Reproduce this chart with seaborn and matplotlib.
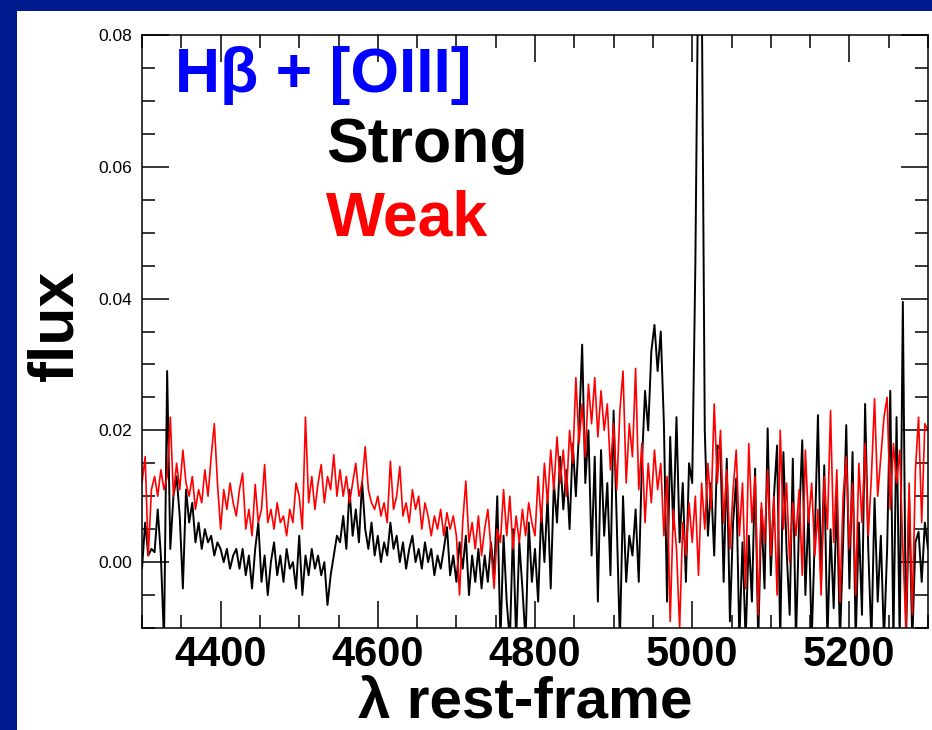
import numpy as np
import seaborn as sns
import matplotlib.pyplot as plt
from matplotlib.patches import Rectangle
from matplotlib.ticker import MultipleLocator, FormatStrFormatter

# wavelength grid (rest-frame, Angstrom)
wavelength = np.arange(4300, 5301, 4)

# stacked spectrum, strong [OIII] emitters (black)
strong_flux = [
    -0.001, 0.006, 0.001, 0.002, 0.0015, 0.008, 0.001, -0.012, 0.029, 0.002, 0.010, 0.013, 0.007, -0.004, 0.011, 0.006, 0.009, 0.003, 0.006, 0.002, 0.005, 0.003, 0.004, 0.001, 0.003,
    0.002, 0.000, 0.002, -0.001, 0.001, 0.002, -0.001, 0.002, -0.002, 0.001, -0.004, 0.002, 0.006, -0.003, 0.001, -0.005, 0.000, 0.003, -0.002, 0.001, -0.003, 0.002, -0.001, 0.000, -0.004,
    0.004, -0.005, 0.001, -0.002, 0.002, -0.001, 0.001, -0.002, 0.000, -0.0065, -0.002, 0.001, 0.004, 0.003, 0.007, 0.002, 0.011, 0.004, 0.008, 0.003, 0.0122, 0.005, 0.002, 0.006, 0.001,
    0.004, 0.000, 0.003, 0.001, 0.006, 0.002, 0.004, 0.000, 0.003, -0.001, 0.002, 0.004, 0.000, 0.002, -0.001, 0.003, 0.000, 0.002, -0.002, 0.001, -0.001, 0.002, 0.0053, -0.002, 0.001,
    -0.003, 0.003, -0.001, 0.004, -0.005, 0.001, -0.003, 0.002, -0.004, 0.001, -0.003, 0.003, -0.002, 0.010, -0.012, 0.004, -0.006, -0.012, 0.005, -0.012, 0.003, -0.004, -0.012, 0.006, -0.003,
    0.002, -0.006, 0.008, 0.000, 0.010, -0.004, 0.012, 0.006, 0.016, 0.008, 0.014, 0.005, 0.018, 0.010, 0.020, 0.033, 0.012, 0.020, 0.001, 0.016, -0.006, 0.017, 0.004, 0.012, -0.002,
    0.023, 0.006, -0.012, 0.010, -0.003, 0.004, 0.001, 0.008, -0.003, 0.015, 0.026, 0.020, 0.032, 0.036, 0.029, 0.035, 0.021, -0.006, 0.019, 0.005, 0.022, 0.003, 0.012, -0.003, 0.015,
    0.012, 0.045, 0.095, 0.090, 0.020, 0.004, 0.012, 0.001, 0.0177, 0.017, -0.003, 0.0157, -0.009, 0.006, 0.0127, -0.012, 0.003, -0.012, 0.004, -0.006, 0.0142, -0.012, 0.008, -0.004, 0.0203,
    -0.002, 0.010, 0.0177, -0.012, 0.0167, 0.002, -0.008, 0.0157, -0.012, 0.006, 0.0185, -0.005, 0.008, -0.012, 0.004, 0.0223, -0.003, 0.0147, -0.012, 0.005, -0.007, 0.010, -0.012, 0.003, 0.0208,
    -0.004, 0.0167, -0.012, 0.006, -0.008, 0.024, 0.002, -0.012, 0.0097, -0.006, 0.004, -0.012, 0.002, 0.026, -0.012, 0.022, -0.012, 0.0395, -0.012, 0.0097, -0.012, 0.003, 0.0046, -0.003, 0.006,
    0.002,
]

# stacked spectrum, weak [OIII] emitters (red)
weak_flux = [
    0.012, 0.016, 0.001, 0.011, 0.013, 0.010, 0.014, 0.011, 0.013, 0.022, 0.010, 0.015, 0.011, 0.017, 0.012, 0.010, 0.013, 0.008, 0.011, 0.009, 0.014, 0.010, 0.016, 0.021, 0.012,
    0.005, 0.011, 0.008, 0.012, 0.009, 0.007, 0.011, 0.0135, 0.005, 0.008, 0.004, 0.0118, 0.006, 0.008, 0.0148, 0.006, 0.008, 0.005, 0.009, 0.006, 0.007, 0.004, 0.008, 0.006, 0.012,
    0.010, 0.005, 0.022, 0.009, 0.013, 0.008, 0.012, 0.0148, 0.009, 0.013, 0.011, 0.0163, 0.010, 0.014, 0.010, 0.013, 0.009, 0.012, 0.015, 0.010, 0.012, 0.0175, 0.011, 0.009, 0.008,
    0.010, 0.007, 0.009, 0.006, 0.0153, 0.008, 0.010, 0.0145, 0.007, 0.009, 0.006, 0.011, 0.008, 0.010, 0.005, 0.009, 0.007, 0.004, 0.007, 0.005, 0.008, 0.004, 0.0075, 0.005, 0.007,
    0.004, -0.005, 0.006, 0.0123, 0.003, 0.006, 0.002, 0.007, 0.001, 0.005, 0.008, 0.002, -0.004, 0.005, 0.003, 0.011, 0.004, 0.010, 0.002, 0.007, 0.003, 0.008, 0.004, 0.009, 0.006,
    0.004, 0.013, 0.006, 0.015, 0.009, 0.017, 0.011, 0.019, 0.012, 0.017, 0.010, 0.020, 0.015, 0.028, 0.018, 0.024, 0.016, 0.027, 0.021, 0.028, 0.019, 0.026, 0.020, 0.024, 0.014,
    0.021, 0.011, 0.023, 0.029, 0.012, 0.021, 0.016, 0.0294, 0.011, 0.018, 0.006, 0.015, 0.009, 0.017, 0.011, 0.015, 0.004, 0.013, -0.009, 0.008, 0.002, -0.010, 0.006, 0.001, 0.009,
    0.003, 0.010, -0.002, 0.012, 0.005, 0.015, 0.008, 0.024, 0.012, 0.020, 0.006, 0.014, 0.002, 0.011, 0.017, 0.004, 0.012, -0.004, 0.018, 0.006, 0.013, -0.008, 0.009, 0.003, 0.014,
    0.001, 0.010, -0.005, 0.020, 0.005, 0.012, 0.000, 0.009, 0.004, 0.011, -0.002, 0.017, 0.006, 0.012, 0.001, 0.008, -0.005, 0.013, 0.005, 0.023, 0.003, 0.014, -0.006, 0.010, 0.016,
    0.002, 0.012, -0.005, 0.015, 0.006, 0.018, 0.004, 0.013, 0.0248, 0.010, 0.016, 0.022, 0.025, 0.008, 0.018, 0.012, 0.017, 0.002, -0.010, 0.012, -0.008, 0.014, 0.022, 0.006, 0.021,
    0.020,
]

xticks = [4400, 4600, 4800, 5000, 5200]
yticks = [0.00, 0.02, 0.04, 0.06, 0.08]

sns.set_style('ticks')
plt.rcParams['font.family'] = ['Liberation Sans', 'DejaVu Sans']
plt.rcParams['text.color'] = 'black'
plt.rcParams['xtick.color'] = 'black'
plt.rcParams['ytick.color'] = 'black'
plt.rcParams['axes.labelcolor'] = 'black'

fig = plt.figure(figsize=(9.32, 7.30), dpi=100, facecolor='#001a8f')
# white panel inside the navy frame
fig.add_artist(Rectangle((17 / 932, 0), 1 - 17 / 932, 1 - 11 / 730,
                         transform=fig.transFigure, facecolor='white',
                         edgecolor='none', zorder=0))

ax = fig.add_axes([142 / 932, 1 - 628 / 730, 786 / 932, 593 / 730])
ax.set_facecolor('white')

sns.lineplot(x=wavelength, y=strong_flux, color='black', lw=1.4,
             estimator=None, sort=False, ax=ax)
sns.lineplot(x=wavelength, y=weak_flux, color='red', lw=1.2,
             estimator=None, sort=False, ax=ax)

ax.set_xlim(4300, 5300)
ax.set_ylim(-0.01, 0.08)

ax.set_xticks(xticks)
ax.set_xticklabels([str(t) for t in xticks], fontsize=30, fontweight='bold',
                   color='black')
ax.set_yticks(yticks)
ax.yaxis.set_major_formatter(FormatStrFormatter('%.2f'))
ax.xaxis.set_minor_locator(MultipleLocator(50))
ax.yaxis.set_minor_locator(MultipleLocator(0.005))

ax.tick_params(which='both', direction='in', top=True, right=True,
               width=1.1, color='black')
ax.tick_params(which='major', length=19.5)
ax.tick_params(which='minor', length=9.5)
ax.tick_params(axis='x', which='major', pad=5)
ax.tick_params(axis='y', which='major', labelsize=12.5, pad=7,
               labelcolor='black')

for s in ax.spines.values():
    s.set_linewidth(1.1)
    s.set_color('black')

ax.set_xlabel('')
ax.set_ylabel('')

# labels inside the panel
ax.text(4342, 0.0714, 'Hβ + [OIII]', color='#0000ff', fontsize=45,
        fontweight='bold', va='baseline')
ax.text(4534, 0.0607, 'Strong', color='black', fontsize=45,
        fontweight='bold', va='baseline')
ax.text(4534, 0.0496, 'Weak', color='#ff0000', fontsize=45,
        fontweight='bold', va='baseline')

fig.text(56 / 932, 1 - 325 / 730, 'flux', rotation=90, fontsize=45,
         fontweight='bold', ha='center', va='center', color='black')
fig.text(525 / 932, 1.0 / 730, 'λ rest-frame', fontsize=42,
         fontweight='bold', ha='center', va='bottom', color='black')

plt.savefig('out.png', dpi=100, facecolor=fig.get_facecolor())
